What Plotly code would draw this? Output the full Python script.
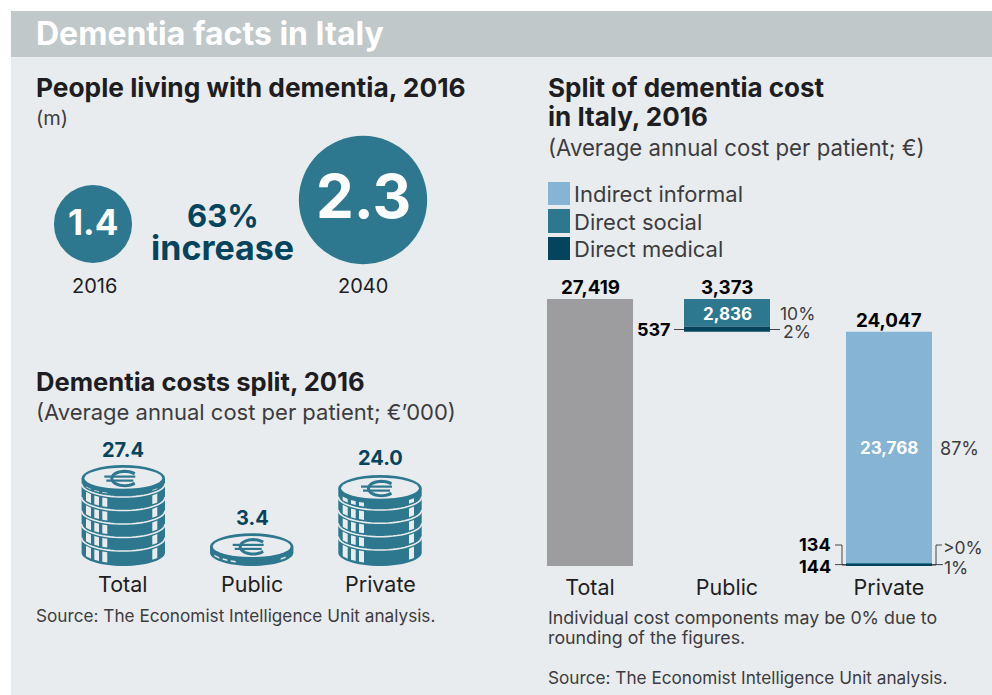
import math
import plotly.graph_objects as go

# ---------- data ----------
PEOPLE_YEARS = ["2016", "2040"]
PEOPLE_MILLIONS = [1.4, 2.3]
PEOPLE_INCREASE = "63%"

COST_CATEGORIES = ["Total", "Public", "Private"]
COST_THOUSANDS = [27.4, 3.4, 24.0]

SPLIT_TOTALS = [27419, 3373, 24047]
DIRECT_MEDICAL = [537, 144]      # Public, Private
DIRECT_SOCIAL = [2836, 134]      # Public, Private
INDIRECT_INFORMAL = [23768]      # Private
SHARE_PUBLIC = ["10%", "2%"]
SHARE_PRIVATE = ["87%", ">0%", "1%"]

# ---------- style / layout ----------
FONT = "Inter"
PANEL, HEADER = "#e9ecee", "#c0c8ca"
TEAL, DARK, LIGHT, GREY = "#2e788f", "#04445c", "#86b4d4", "#9d9d9f"
INK, SOFT = "#1d1d22", "#3c3c40"
BAR_X = [590, 727, 889]
BAR_W = 86
W, H = 992, 695
BASE_PX, TOP_PX = 566, 299

shapes, notes = [], []


def txt(x, y, s, size, color=INK, bold=False, anchor="left", ref=("x2", "y2")):
    notes.append(dict(x=x, y=y, xref=ref[0], yref=ref[1], text=f"<b>{s}</b>" if bold else s,
                      showarrow=False, xanchor=anchor, yanchor="middle", borderpad=0,
                      font=dict(family=FONT, size=size, color=color)))


def poly(points, color=None, fill=None, width=1.0, close=False):
    path = "M" + " L".join(f"{x:.2f},{y:.2f}" for x, y in points) + (" Z" if close else "")
    shapes.append(dict(type="path", xref="x2", yref="y2", path=path, layer="above",
                       line=dict(color=color or "rgba(0,0,0,0)", width=width),
                       fillcolor=fill or "rgba(0,0,0,0)"))


def rect(x0, y0, x1, y1, fill):
    shapes.append(dict(type="rect", xref="x2", yref="y2", x0=x0, y0=y0, x1=x1, y1=y1,
                       layer="below", line=dict(width=0), fillcolor=fill))


def oval(cx, cy, rx, ry, fill, line=None, lw=0):
    shapes.append(dict(type="circle", xref="x2", yref="y2", x0=cx - rx, x1=cx + rx, y0=cy - ry,
                       y1=cy + ry, layer="above", fillcolor=fill,
                       line=dict(color=line or "rgba(0,0,0,0)", width=lw)))


def coin_stack(cx, top, rows, rx=41.7, ry=13.3):
    cy = top + ry
    bottom = rows[-1]
    lower = [(rx * math.cos(math.radians(a)), ry * math.sin(math.radians(a))) for a in range(0, 181, 6)]
    body = [(cx + rx, cy)] + [(cx + dx, bottom - ry + dy) for dx, dy in lower] + [(cx - rx, cy)]
    poly(body, fill=TEAL, close=True)
    oval(cx, cy, rx, ry, TEAL)

    def arc_y(b, dx):
        return b - ry + ry * math.sqrt(max(0, 1 - (dx / rx) ** 2))

    for i, b in enumerate(rows):
        prior = rows[i - 1] if i else cy + ry
        for x0, x1 in [(-37.3, -32.3), (-29, -24.3), (-21, -16), (29, 34)]:
            poly([(cx + x0, arc_y(prior, x0) + 2.2), (cx + x1, arc_y(prior, x1) + 2.2),
                  (cx + x1, arc_y(b, x1) - 2.4), (cx + x0, arc_y(b, x0) - 2.4)], fill=PANEL, close=True)
        if i < len(rows) - 1:
            poly([(cx + dx, b - ry + dy) for dx, dy in lower], color=PANEL, width=1.6)
    oval(cx, cy, rx - 2.8, ry - 2.8, PANEL)
    # euro sign
    ey = cy + 0.2
    arc = [(cx + 1.5 + 13 * math.cos(math.radians(a)), ey + 7.2 * math.sin(math.radians(a)))
           for a in range(40, 321, 10)]
    poly(arc, color=TEAL, width=3)
    for off, x0, x1 in [(-1.9, -19, 12), (2.1, -17, 10)]:
        poly([(cx + x0, ey + off), (cx + x1, ey + off)], color=TEAL, width=2.2)


# ---------- backgrounds ----------
shapes.append(dict(type="rect", xref="paper", yref="paper", x0=11 / W, x1=1, y0=0, y1=1 - 11 / H,
                   layer="below", line=dict(width=0), fillcolor=PANEL))
shapes.append(dict(type="rect", xref="paper", yref="paper", x0=11 / W, x1=1, y0=1 - 57 / H, y1=1 - 11 / H,
                   layer="below", line=dict(width=0), fillcolor=HEADER))

# ---------- headings ----------
txt(35, 33.5, "Dementia facts in Italy", 32, "white", True)
txt(35, 87, "People living with dementia, 2016", 26.3, INK, True)
txt(35, 118, "(m)", 20, SOFT)
txt(35, 381, "Dementia costs split, 2016", 25.6, INK, True)
txt(35, 412, "(Average annual cost per patient; €’000)", 22, SOFT)
txt(35, 615, "Source: The Economist Intelligence Unit analysis.", 17.2, SOFT)
txt(547, 87, "Split of dementia cost", 26, INK, True)
txt(547, 116, "in Italy, 2016", 26, INK, True)
txt(547, 147, "(Average annual cost per patient; €)", 22.2, SOFT)
txt(547, 617, "Individual cost components may be 0% due to", 17.8, SOFT)
txt(547, 637, "rounding of the figures.", 17.8, SOFT)
txt(547, 677, "Source: The Economist Intelligence Unit analysis.", 17.2, SOFT)

# ---------- people panel ----------
txt(223, 215, PEOPLE_INCREASE, 31, DARK, True, "center")
txt(222, 247, "increase", 34, DARK, True, "center")
for x, y in zip([94, 363], PEOPLE_YEARS):
    txt(x, 286, y, 20, INK, False, "center")

# ---------- coins ----------
COIN_X = [123.3, 251.7, 380]
coin_stack(COIN_X[0], 465, [497, 510.5, 524, 537.5, 551, 566])
coin_stack(COIN_X[1], 533.3, [566])
coin_stack(COIN_X[2], 475, [510, 523.3, 536.7, 550, 566])
for x, y, v in zip([123, 252, 380], [450, 518, 458], COST_THOUSANDS):
    txt(x, y, f"{v:.1f}", 20, DARK, True, "center")
for x, c in zip([123, 252, 380], COST_CATEGORIES):
    txt(x, 583.5, c, 21.5, INK, False, "center")

# ---------- legend ----------
for (y0, y1, fill), label, y in zip([(182, 205, LIGHT), (209, 233, TEAL), (237, 260, DARK)],
                                    ["Indirect informal", "Direct social", "Direct medical"],
                                    [194, 222, 249]):
    rect(548, y0, 570, y1, fill)
    txt(573, y, label, 22, SOFT)

# ---------- bars ----------
public_base = SPLIT_TOTALS[0] - SPLIT_TOTALS[1]
med_base = [public_base, 0]
soc_base = [public_base + DIRECT_MEDICAL[0], DIRECT_MEDICAL[1]]
inf_base = [DIRECT_MEDICAL[1] + DIRECT_SOCIAL[1]]

fig = go.Figure()
fig.add_bar(x=[BAR_X[0]], y=[SPLIT_TOTALS[0]], width=BAR_W, marker=dict(color=GREY, line_width=0),
            name="Total", showlegend=False)
fig.add_bar(x=[BAR_X[2]], y=INDIRECT_INFORMAL, base=inf_base, width=BAR_W, marker=dict(color=LIGHT, line_width=0),
            name="Indirect informal", showlegend=False)
fig.add_bar(x=BAR_X[1:], y=DIRECT_SOCIAL, base=soc_base, width=BAR_W, marker=dict(color=TEAL, line_width=0),
            name="Direct social", showlegend=False)
fig.add_bar(x=BAR_X[1:], y=DIRECT_MEDICAL, base=med_base, width=BAR_W, marker=dict(color=DARK, line_width=0),
            name="Direct medical", showlegend=False)

# bubbles: diameter proportional to the value
fig.add_scatter(x=[93, 363], y=[224, 200], xaxis="x2", yaxis="y2", mode="markers",
                marker=dict(size=[v * 55.8 for v in PEOPLE_MILLIONS], color=TEAL, line_width=0,
                            sizemode="diameter", opacity=1),
                showlegend=False, hoverinfo="skip")
txt(93, 222, f"{PEOPLE_MILLIONS[0]}", 35, "white", True, "center")
txt(363, 196, f"{PEOPLE_MILLIONS[1]}", 60, "white", True, "center")

# ---------- bar labels ----------
for x, y, v in zip(BAR_X, [287, 287, 320], SPLIT_TOTALS):
    txt(x, y, f"{v:,}", 18.8, "#000000", True, "center")
txt(BAR_X[1], 314, f"{DIRECT_SOCIAL[0]:,}", 17, "white", True, "center")
txt(BAR_X[2], 448, f"{INDIRECT_INFORMAL[0]:,}", 17, "white", True, "center")
txt(672, 329, f"{DIRECT_MEDICAL[0]}", 18, "#000000", True, "right")
txt(832, 544, f"{DIRECT_SOCIAL[1]}", 18, "#000000", True, "right")
txt(832, 566, f"{DIRECT_MEDICAL[1]}", 18, "#000000", True, "right")
txt(779, 313, SHARE_PUBLIC[0], 17.5, SOFT)
txt(782, 331, SHARE_PUBLIC[1], 17.5, SOFT)
txt(939, 448, SHARE_PRIVATE[0], 18, SOFT)
txt(942, 547, SHARE_PRIVATE[1], 17.5, SOFT)
txt(943, 567, SHARE_PRIVATE[2], 17.5, SOFT)

# leader lines
for pts in ([(674, 329.5), (684, 329.5)], [(770, 329.5), (780, 329.5)],
            [(835, 545), (842, 545), (842, 565), (846, 565)], [(835, 564.6), (846, 564.6)],
            [(932, 565), (936, 565), (936, 545), (942, 545)], [(932, 564.6), (943, 564.6)]):
    poly(pts, color="#333333", width=0.9)

fig.update_layout(
    width=W, height=H, autosize=False, margin=dict(l=0, r=0, t=0, b=0),
    paper_bgcolor="white", plot_bgcolor="rgba(0,0,0,0)", barmode="overlay", showlegend=False,
    shapes=shapes, annotations=notes, font=dict(family=FONT),
    xaxis=dict(domain=[540 / W, 940 / W], range=[540, 940], tickvals=BAR_X, ticktext=COST_CATEGORIES,
               ticks="outside", ticklen=2, tickcolor="rgba(0,0,0,0)", showgrid=False, zeroline=False,
               showline=False, tickfont=dict(family=FONT, size=21.5, color=INK)),
    yaxis=dict(domain=[(H - BASE_PX) / H, (H - TOP_PX) / H], range=[0, SPLIT_TOTALS[0]], visible=False),
    xaxis2=dict(domain=[0, 1], range=[0, W], visible=False, anchor="y2"),
    yaxis2=dict(domain=[0, 1], range=[H, 0], visible=False, anchor="x2"),
)
fig.write_html("out.html", config=dict(displayModeBar=False),
               post_script="document.body.style.margin='0';document.body.style.overflow='hidden';")
